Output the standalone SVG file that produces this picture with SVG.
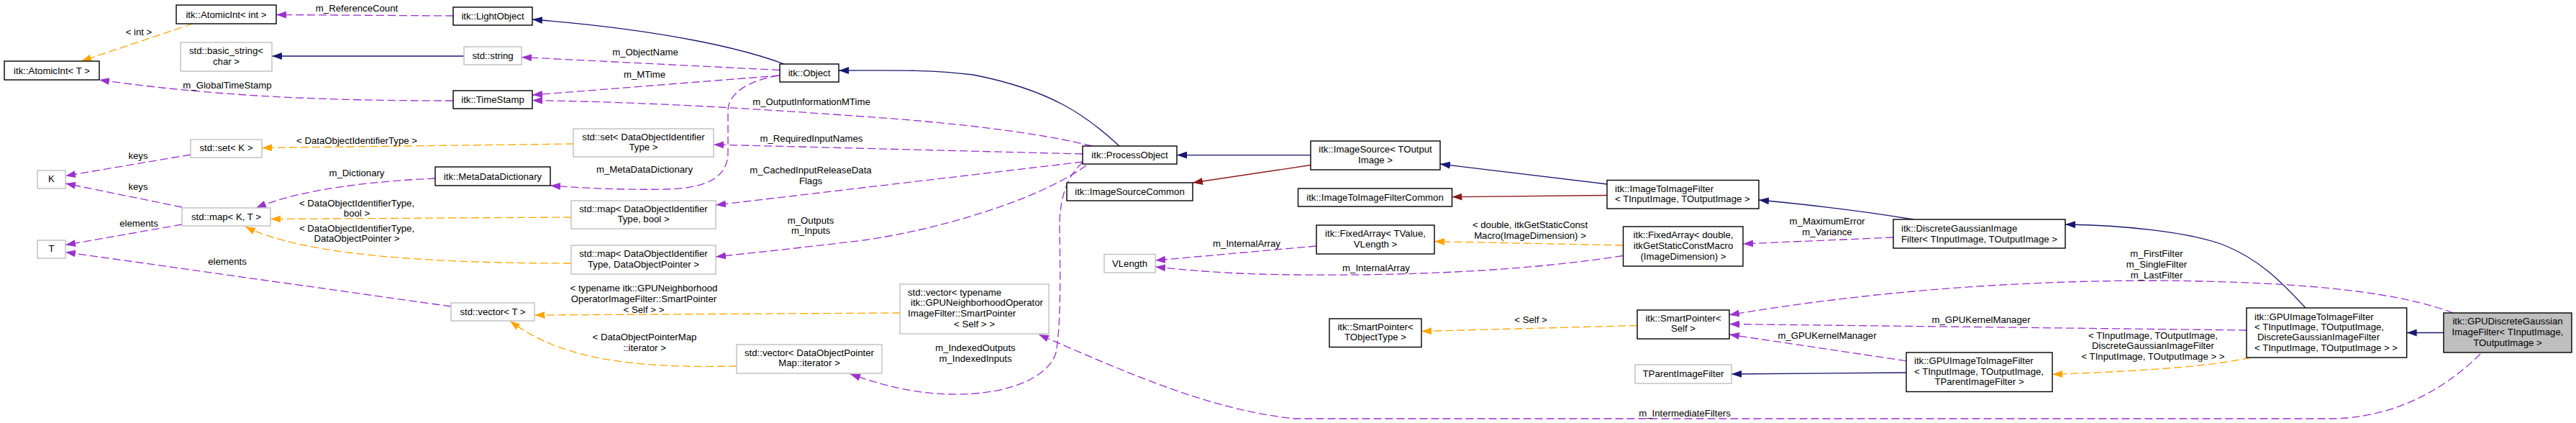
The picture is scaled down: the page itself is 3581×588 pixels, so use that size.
<svg xmlns="http://www.w3.org/2000/svg" width="3581" height="588" viewBox="0 0 3581 588">
<style>
text{font-family:"Liberation Sans",Arial,sans-serif;font-size:13.2px;fill:#000}
.c{text-anchor:middle}
.d rect{fill:#fff;stroke:#000;stroke-width:1.4}
.u rect{fill:#fff;stroke:#bfbfbf;stroke-width:1.4}
.m rect{fill:#bfbfbf;stroke:#000;stroke-width:1.4}
#edges path{fill:none;stroke-width:1.3}
.nv{stroke:#191970;marker-end:url(#aN)}
.pu{stroke:#9a32cd;stroke-dasharray:11,5;marker-end:url(#aP)}
.or{stroke:#ffa500;stroke-dasharray:11,5;marker-end:url(#aO)}
.rd{stroke:#8b1a1a;marker-end:url(#aR)}
</style>
<defs>
<marker id="aN" markerUnits="userSpaceOnUse" markerWidth="14" markerHeight="10" refX="14" refY="5" orient="auto"><path d="M0,0L14,5L0,10z" fill="#191970"/></marker>
<marker id="aP" markerUnits="userSpaceOnUse" markerWidth="14" markerHeight="10" refX="14" refY="5" orient="auto"><path d="M0,0L14,5L0,10z" fill="#9a32cd"/></marker>
<marker id="aO" markerUnits="userSpaceOnUse" markerWidth="14" markerHeight="10" refX="14" refY="5" orient="auto"><path d="M0,0L14,5L0,10z" fill="#ffa500"/></marker>
<marker id="aR" markerUnits="userSpaceOnUse" markerWidth="14" markerHeight="10" refX="14" refY="5" orient="auto"><path d="M0,0L14,5L0,10z" fill="#8b1a1a"/></marker>
</defs>
<rect width="3581" height="588" fill="#fff"/>
<g id="edges">
<path class="or" d="M268,33 L113,85"/>
<path class="pu" d="M630,22 L384,20.5"/>
<path class="nv" d="M645,78 L378,78"/>
<path class="nv" d="M1090,89 C1040,70 930,42 740,27"/>
<path class="pu" d="M1084,97.5 L725,79.5"/>
<path class="pu" d="M1084,105 L740,132"/>
<path class="pu" d="M630,140 C450,140 300,134 138,111"/>
<path class="pu" d="M1518,203 C1460,188 1350,172 1200,162 C1050,151 900,142 740,139.5"/>
<path class="pu" d="M1505,214 L992,201"/>
<path class="or" d="M797,200 L364,205.5"/>
<path class="pu" d="M1082,105 C1040,112 1013,130 1012,152 L1012,212 C1012,245 985,262 925,263 C870,264 820,262 765,258"/>
<path class="pu" d="M605,248 C520,252 420,262 356,289"/>
<path class="or" d="M794,302 L376,304.5"/>
<path class="or" d="M794,366 C600,366 420,355 341,315"/>
<path class="pu" d="M265,215 L91,244.5"/>
<path class="pu" d="M253,288 L91,255"/>
<path class="pu" d="M253,312 L91,340.5"/>
<path class="pu" d="M627,426 L91,350.5"/>
<path class="or" d="M1251,435 L743.5,438"/>
<path class="or" d="M1024,509 C880,512 780,500 709,446"/>
<path class="nv" d="M1556,203 C1510,160 1460,125 1353,104 C1290,96 1230,98 1166,98"/>
<path class="nv" d="M1822,215.6 L1636,215.6"/>
<path class="rd" d="M1822,229.5 L1658,254"/>
<path class="pu" d="M1505,225 L995,285"/>
<path class="pu" d="M1510,230 C1440,280 1300,320 1200,334 C1100,346 1040,352 995,357"/>
<path class="pu" d="M1505,226 C1482,245 1472,280 1473,320 C1474,380 1475,450 1468,490 C1458,525 1400,550 1320,548 C1270,547 1225,535 1182,520"/>
<path class="pu" d="M3448,492 C3410,530 3340,581 3240,582 L1800,582 C1680,570 1560,515 1444,465"/>
<path class="pu" d="M1830,342 L1606,362"/>
<path class="pu" d="M2256,355.5 C2150,372 2000,384 1800,382 C1700,381 1650,375 1606,371"/>
<path class="or" d="M2256.5,341 L1994,335.6"/>
<path class="or" d="M2276,452.5 L1976,460.5"/>
<path class="nv" d="M2234,256 L2002,228"/>
<path class="rd" d="M2234,271.5 L2018.5,273.7"/>
<path class="nv" d="M2660,305 C2600,295 2520,285 2445,278"/>
<path class="pu" d="M2632,330 L2423,339"/>
<path class="nv" d="M3205,428 C3170,390 3140,360 3090,340 C3040,322 2950,313 2871,312"/>
<path class="pu" d="M3410,435 C3340,408 3220,392 3000,390 C2800,390 2600,405 2404,437.7"/>
<path class="pu" d="M3123,459 L2404,450.5"/>
<path class="pu" d="M2650,501.7 L2404,465"/>
<path class="nv" d="M2650,518 L2407,520"/>
<path class="or" d="M3128,497 C3080,508 3000,515 2853,520.4"/>
<path class="nv" d="M3397,462.5 L3345.7,462.5"/>
</g>
<g id="edge-labels">
<text x="193" y="48.7" class="c">&lt; int &gt;</text>
<text x="496" y="15.7" class="c">m_ReferenceCount</text>
<text x="316" y="122.7" class="c">m_GlobalTimeStamp</text>
<text x="496" y="199.7" class="c">&lt; DataObjectIdentifierType &gt;</text>
<text x="192" y="220.7" class="c">keys</text>
<text x="192" y="263.7" class="c">keys</text>
<text x="496" y="244.7" class="c">m_Dictionary</text>
<text x="496" y="286.7" class="c">&lt; DataObjectIdentifierType,</text>
<text x="496" y="300.7" class="c">bool &gt;</text>
<text x="496" y="321.7" class="c">&lt; DataObjectIdentifierType,</text>
<text x="496" y="335.7" class="c">DataObjectPointer &gt;</text>
<text x="193" y="314.7" class="c">elements</text>
<text x="316" y="367.7" class="c">elements</text>
<text x="897" y="76.7" class="c">m_ObjectName</text>
<text x="896" y="108.2" class="c">m_MTime</text>
<text x="1128" y="145.5" class="c">m_OutputInformationMTime</text>
<text x="1128" y="197" class="c">m_RequiredInputNames</text>
<text x="896" y="240.2" class="c">m_MetaDataDictionary</text>
<text x="1127" y="240.5" class="c">m_CachedInputReleaseData</text>
<text x="1127" y="255.5" class="c">Flags</text>
<text x="1127" y="310.7" class="c">m_Outputs</text>
<text x="1127" y="325.3" class="c">m_Inputs</text>
<text x="895" y="405.2" class="c">&lt; typename itk::GPUNeighborhood</text>
<text x="895" y="420.2" class="c">OperatorImageFilter::SmartPointer</text>
<text x="895" y="435.2" class="c">&lt; Self &gt; &gt;</text>
<text x="896" y="473.4" class="c">&lt; DataObjectPointerMap</text>
<text x="896" y="488.4" class="c">::iterator &gt;</text>
<text x="1356" y="488" class="c">m_IndexedOutputs</text>
<text x="1356" y="503" class="c">m_IndexedInputs</text>
<text x="1733" y="343.3" class="c">m_InternalArray</text>
<text x="1913" y="377.4" class="c">m_InternalArray</text>
<text x="2127" y="317" class="c">&lt; double, itkGetStaticConst</text>
<text x="2127" y="332" class="c">Macro(ImageDimension) &gt;</text>
<text x="2128" y="448.7" class="c">&lt; Self &gt;</text>
<text x="2342" y="579" class="c">m_IntermediateFilters</text>
<text x="2540" y="312.2" class="c">m_MaximumError</text>
<text x="2540" y="327.2" class="c">m_Variance</text>
<text x="2998" y="357.2" class="c">m_FirstFilter</text>
<text x="2998" y="372.2" class="c">m_SingleFilter</text>
<text x="2998" y="387.2" class="c">m_LastFilter</text>
<text x="2754" y="449.4" class="c">m_GPUKernelManager</text>
<text x="2540" y="471.1" class="c">m_GPUKernelManager</text>
<text x="2993" y="471.1" class="c">&lt; TInputImage, TOutputImage,</text>
<text x="2993" y="484.7" class="c">DiscreteGaussianImageFilter</text>
<text x="2993" y="500.4" class="c">&lt; TInputImage, TOutputImage &gt; &gt;</text>
</g>
<g id="n-atomicint-int" class="d"><rect x="245" y="7" width="139" height="26"/><text x="314.5" y="24.5" class="c">itk::AtomicInt&lt; int &gt;</text></g>
<g id="n-basic-string" class="u"><rect x="251" y="59" width="127" height="40"/><text x="314.5" y="75.2" class="c">std::basic_string&lt;</text><text x="314.5" y="89.7" class="c">char &gt;</text></g>
<g id="n-atomicint-t" class="d"><rect x="6" y="85" width="132" height="26"/><text x="72" y="102.5" class="c">itk::AtomicInt&lt; T &gt;</text></g>
<g id="n-set-k" class="u"><rect x="265" y="194" width="99" height="25"/><text x="314.5" y="210" class="c">std::set&lt; K &gt;</text></g>
<g id="n-k" class="u"><rect x="52" y="237" width="39" height="25"/><text x="71.5" y="253" class="c">K</text></g>
<g id="n-map-kt" class="u"><rect x="253" y="289" width="123" height="25"/><text x="314.5" y="306" class="c">std::map&lt; K, T &gt;</text></g>
<g id="n-t" class="u"><rect x="52" y="334" width="39" height="25"/><text x="71.5" y="350" class="c">T</text></g>
<g id="n-lightobject" class="d"><rect x="630" y="10" width="110" height="25"/><text x="685" y="27" class="c">itk::LightObject</text></g>
<g id="n-string" class="u"><rect x="645" y="65" width="80" height="25"/><text x="685" y="81.5" class="c">std::string</text></g>
<g id="n-object" class="d"><rect x="1084" y="89" width="82" height="25"/><text x="1125" y="105.5" class="c">itk::Object</text></g>
<g id="n-timestamp" class="d"><rect x="630" y="126" width="110" height="25"/><text x="685" y="142.5" class="c">itk::TimeStamp</text></g>
<g id="n-set-doit" class="u"><rect x="797" y="179" width="195" height="39"/><text x="894.5" y="195.2" class="c">std::set&lt; DataObjectIdentifier</text><text x="894.5" y="209.4" class="c">Type &gt;</text></g>
<g id="n-metadatadictionary" class="d"><rect x="605" y="232" width="160" height="26"/><text x="685" y="249.5" class="c">itk::MetaDataDictionary</text></g>
<g id="n-map-bool" class="u"><rect x="794" y="279" width="201" height="39"/><text x="894.5" y="295.3" class="c">std::map&lt; DataObjectIdentifier</text><text x="894.5" y="309.2" class="c">Type, bool &gt;</text></g>
<g id="n-map-pointer" class="u"><rect x="794" y="341" width="201" height="40"/><text x="894.5" y="357.2" class="c">std::map&lt; DataObjectIdentifier</text><text x="894.5" y="372.2" class="c">Type, DataObjectPointer &gt;</text></g>
<g id="n-vector-t" class="u"><rect x="627" y="421" width="116" height="25"/><text x="685" y="437.5" class="c">std::vector&lt; T &gt;</text></g>
<g id="n-vector-dopm" class="u"><rect x="1024" y="479" width="202" height="40"/><text x="1125" y="495.1" class="c">std::vector&lt; DataObjectPointer</text><text x="1125" y="509.4" class="c">Map::iterator &gt;</text></g>
<g id="n-processobject" class="d"><rect x="1505" y="203" width="131" height="25"/><text x="1570.5" y="219.5" class="c">itk::ProcessObject</text></g>
<g id="n-imagesourcecommon" class="d"><rect x="1483" y="254" width="175" height="25"/><text x="1570.5" y="270.5" class="c">itk::ImageSourceCommon</text></g>
<g id="n-vlength" class="u"><rect x="1535" y="353.5" width="71" height="25.5"/><text x="1570.5" y="370.5" class="c">VLength</text></g>
<g id="n-vector-typename" class="u"><rect x="1251" y="395" width="207" height="69"/><text x="1262" y="411.4">std::vector&lt; typename</text><text x="1266" y="425.4">itk::GPUNeighborhoodOperator</text><text x="1262" y="440">ImageFilter::SmartPointer</text><text x="1354.5" y="455.4" class="c">&lt; Self &gt; &gt;</text></g>
<g id="n-imagesource" class="d"><rect x="1822" y="196" width="180" height="40"/><text x="1912" y="212.1" class="c">itk::ImageSource&lt; TOutput</text><text x="1912" y="227" class="c">Image &gt;</text></g>
<g id="n-imagetoimagefiltercommon" class="d"><rect x="1804.5" y="262" width="214" height="25"/><text x="1911.5" y="278.5" class="c">itk::ImageToImageFilterCommon</text></g>
<g id="n-fixedarray-tvalue" class="d"><rect x="1830" y="313" width="164" height="40"/><text x="1912" y="329" class="c">itk::FixedArray&lt; TValue,</text><text x="1912" y="344" class="c">VLength &gt;</text></g>
<g id="n-smartpointer-tobjecttype" class="d"><rect x="1848" y="443" width="128" height="39.5"/><text x="1912" y="458.7" class="c">itk::SmartPointer&lt;</text><text x="1912" y="473.4" class="c">TObjectType &gt;</text></g>
<g id="n-imagetoimagefilter" class="d"><rect x="2234" y="250.5" width="211" height="39.5"/><text x="2245" y="267.2">itk::ImageToImageFilter</text><text x="2245" y="280.7">&lt; TInputImage, TOutputImage &gt;</text></g>
<g id="n-fixedarray-double" class="d"><rect x="2256.5" y="315" width="166.5" height="55"/><text x="2340" y="330.7" class="c">itk::FixedArray&lt; double,</text><text x="2340" y="345.7" class="c">itkGetStaticConstMacro</text><text x="2340" y="360.7" class="c">(ImageDimension) &gt;</text></g>
<g id="n-smartpointer-self" class="d"><rect x="2276" y="431" width="128" height="40"/><text x="2340" y="447.4" class="c">itk::SmartPointer&lt;</text><text x="2340" y="461.4" class="c">Self &gt;</text></g>
<g id="n-tparentimagefilter" class="u"><rect x="2273" y="507" width="134" height="26"/><text x="2340" y="523.5" class="c">TParentImageFilter</text></g>
<g id="n-discretegaussian" class="d"><rect x="2632" y="305" width="239" height="40"/><text x="2643" y="321.5">itk::DiscreteGaussianImage</text><text x="2643" y="336.5">Filter&lt; TInputImage, TOutputImage &gt;</text></g>
<g id="n-gpuimagetoimagefilter-tparent" class="d"><rect x="2650" y="490" width="203" height="54.5"/><text x="2661" y="506">itk::GPUImageToImageFilter</text><text x="2661" y="521.4">&lt; TInputImage, TOutputImage,</text><text x="2751.5" y="535.3" class="c">TParentImageFilter &gt;</text></g>
<g id="n-gpuimagetoimagefilter-dg" class="d"><rect x="3123" y="428" width="222.7" height="69"/><text x="3134" y="444.7">itk::GPUImageToImageFilter</text><text x="3134" y="459">&lt; TInputImage, TOutputImage,</text><text x="3138" y="473.4">DiscreteGaussianImageFilter</text><text x="3134" y="488">&lt; TInputImage, TOutputImage &gt; &gt;</text></g>
<g id="n-gpudiscretegaussian" class="m"><rect x="3397" y="435" width="178" height="55"/><text x="3486" y="451.4" class="c">itk::GPUDiscreteGaussian</text><text x="3486" y="466.4" class="c">ImageFilter&lt; TInputImage,</text><text x="3486" y="480.7" class="c">TOutputImage &gt;</text></g>
</svg>
